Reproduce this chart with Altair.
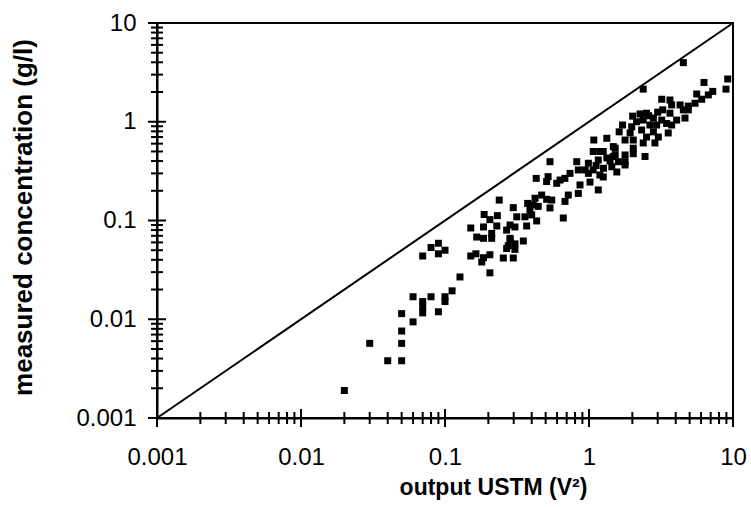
import altair as alt
import pandas as pd

# ---- data (output USTM in V^2, measured concentration in g/l)
ustm = [
    0.02, 0.03, 0.04, 0.05, 0.05, 0.05, 0.05, 0.06, 0.06, 0.07,
    0.08, 0.09, 0.07, 0.07, 0.07, 0.08, 0.09, 0.09, 0.10, 0.10,
    0.10, 0.112, 0.127, 0.151, 0.164, 0.185, 0.205, 0.18, 0.205, 0.254,
    0.298, 0.268, 0.306, 0.275, 0.166, 0.185, 0.211, 0.211, 0.283, 0.35,
    0.306, 0.283, 0.151, 0.185, 0.229, 0.268, 0.306, 0.369, 0.283, 0.187,
    0.205, 0.231, 0.315, 0.359, 0.40, 0.433, 0.238, 0.298, 0.375, 0.389,
    0.41, 0.444, 0.536, 0.469, 0.422, 0.508, 0.551, 0.663, 0.681, 0.718,
    0.843, 1.16, 0.43, 0.52, 0.508, 0.597, 0.63, 0.68, 0.738, 0.866,
    1.016, 0.99, 0.94, 1.07, 1.19, 1.256, 1.26, 1.44, 1.56, 0.536,
    0.822, 0.99, 1.16, 1.33, 1.475, 1.60, 1.78, 1.78, 1.07, 1.19,
    1.256, 1.52, 1.78, 2.03, 2.45, 1.52, 1.475, 2.03, 2.38, 2.87,
    1.08, 1.33, 1.78, 2.03, 2.51, 3.03, 1.62, 1.93, 2.32, 2.80,
    3.55, 1.71, 1.98, 2.65, 2.95, 3.46, 3.75, 2.14, 2.38, 3.20,
    4.06, 2.80, 4.64, 2.01, 2.26, 2.51, 3.65, 3.25, 4.52, 4.89,
    4.29, 3.75, 4.89, 5.45, 3.20, 3.65, 6.06, 5.6, 6.74, 7.23,
    6.29, 8.94, 9.19, 2.38, 4.52, 0.843, 1.12, 1.40, 2.60, 3.00,
]
conc = [
    0.0019, 0.0057, 0.0038, 0.0038, 0.0057, 0.0076, 0.0114, 0.0094, 0.0169, 0.0437,
    0.0533, 0.0588, 0.0151, 0.0134, 0.0116, 0.0169, 0.0119, 0.046, 0.050, 0.0169,
    0.0151, 0.0194, 0.0268, 0.0437, 0.046, 0.042, 0.045, 0.038, 0.0295, 0.0417,
    0.0417, 0.052, 0.051, 0.0555, 0.068, 0.066, 0.066, 0.074, 0.0635, 0.062,
    0.058, 0.066, 0.084, 0.086, 0.088, 0.080, 0.086, 0.088, 0.090, 0.115,
    0.102, 0.112, 0.109, 0.109, 0.114, 0.099, 0.161, 0.135, 0.149, 0.128,
    0.144, 0.139, 0.134, 0.181, 0.168, 0.164, 0.161, 0.106, 0.156, 0.181,
    0.188, 0.204, 0.267, 0.278, 0.248, 0.238, 0.257, 0.267, 0.30, 0.229,
    0.245, 0.30, 0.325, 0.325, 0.289, 0.276, 0.338, 0.35, 0.31, 0.394,
    0.394, 0.38, 0.41, 0.43, 0.445, 0.394, 0.394, 0.365, 0.50, 0.50,
    0.50, 0.461, 0.461, 0.475, 0.445, 0.54, 0.56, 0.54, 0.61, 0.61,
    0.653, 0.68, 0.653, 0.653, 0.70, 0.70, 0.79, 0.77, 0.825, 0.79,
    0.77, 0.927, 0.89, 0.927, 0.927, 0.96, 0.927, 1.0, 1.04, 1.04,
    1.04, 1.09, 1.09, 1.14, 1.20, 1.22, 1.22, 1.32, 1.32, 1.32,
    1.48, 1.48, 1.44, 1.54, 1.69, 1.66, 1.69, 1.91, 1.87, 2.03,
    2.50, 2.14, 2.71, 2.14, 3.97, 0.325, 0.36, 0.40, 1.15, 1.25,
]

# 1:1 reference line end points and axis decades
line_x = [0.001, 10]
line_y = [0.001, 10]
decades = [0.001, 0.01, 0.1, 1, 10]
multiples = [2, 3, 4, 5, 6, 7, 8, 9]

points = pd.DataFrame({"x": ustm, "y": conc})
diag = pd.DataFrame({"x": line_x, "y": line_y})
major = pd.DataFrame({"v": decades})
minor = pd.DataFrame({"v": [d * m for d in decades[:-1] for m in multiples]})

FONT = "Liberation Sans"
W, H = 576, 395

xscale = alt.Scale(type="log", domain=[0.001, 10], nice=False)
yscale = alt.Scale(type="log", domain=[0.001, 10], nice=False)

xaxis = alt.Axis(
    values=decades, format="~g", ticks=False, grid=False,
    domainColor="black", domainWidth=2,
    labelFont=FONT, labelFontSize=24, labelColor="black", labelPadding=27,
    labelFlush=False, labelOverlap=False,
    title="output USTM (V²)", titleFont=FONT, titleFontSize=23, titleFontWeight="bold",
    titleColor="black", titleX=336, titleY=69, titleBaseline="middle", titleAlign="center",
)
yaxis = alt.Axis(
    values=decades, format="~g", ticks=False, grid=False,
    domainColor="black", domainWidth=2,
    labelFont=FONT, labelFontSize=24, labelColor="black", labelPadding=21,
    labelFlush=False, labelOverlap=False,
    title="measured concentration (g/l)", titleFont=FONT, titleFontSize=26,
    titleFontWeight="bold", titleColor="black", titleX=-134, titleY=194,
    titleBaseline="middle", titleAlign="center", titleAngle=270,
)

scatter = alt.Chart(points).mark_square(size=49, color="black", opacity=1).encode(
    x=alt.X("x:Q", scale=xscale, axis=xaxis),
    y=alt.Y("y:Q", scale=yscale, axis=yaxis),
)

diag_line = alt.Chart(diag).mark_line(color="black", strokeWidth=2).encode(
    x=alt.X("x:Q", scale=xscale),
    y=alt.Y("y:Q", scale=yscale),
)

# crossing tick marks on the x axis
x_major = alt.Chart(major).mark_rule(color="black", strokeWidth=2).encode(
    x=alt.X("v:Q", scale=xscale), y=alt.value(H - 9), y2=alt.value(H + 9)
)
x_minor = alt.Chart(minor).mark_rule(color="black", strokeWidth=2).encode(
    x=alt.X("v:Q", scale=xscale), y=alt.value(H - 6), y2=alt.value(H + 6)
)
# crossing tick marks on the y axis
y_major = alt.Chart(major).mark_rule(color="black", strokeWidth=2).encode(
    y=alt.Y("v:Q", scale=yscale), x=alt.value(-9), x2=alt.value(9)
)
y_minor = alt.Chart(minor).mark_rule(color="black", strokeWidth=2).encode(
    y=alt.Y("v:Q", scale=yscale), x=alt.value(-6), x2=alt.value(6)
)

chart = (
    alt.layer(diag_line, x_major, x_minor, y_major, y_minor, scatter)
    .properties(
        width=W, height=H,
        autosize=alt.AutoSizeParams(type="none"),
        padding={"left": 157, "top": 23, "right": 18, "bottom": 89},
        background="white",
    )
    .configure_view(stroke="black", strokeWidth=2)
)

chart.save("out.html", embed_options={"renderer": "svg", "actions": False})
